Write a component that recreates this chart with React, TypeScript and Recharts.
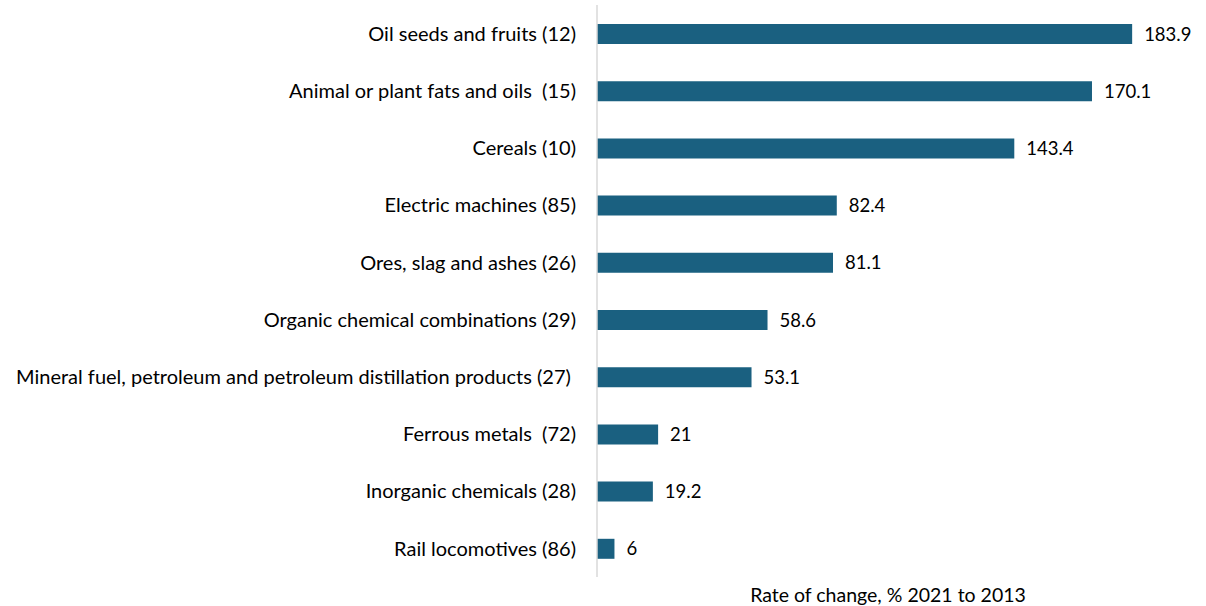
import React from 'react';
import { BarChart, Bar, XAxis, YAxis, LabelList } from 'recharts';

const categories = [
  'Oil seeds and fruits (12)',
  'Animal or plant fats and oils\u00a0\u00a0(15)',
  'Cereals (10)',
  'Electric machines (85)',
  'Ores, slag and ashes (26)',
  'Organic chemical combinations (29)',
  'Mineral fuel, petroleum and petroleum distillation products (27)\u00a0',
  'Ferrous metals\u00a0\u00a0(72)',
  'Inorganic chemicals (28)',
  'Rail locomotives (86)',
];
const values = [183.9, 170.1, 143.4, 82.4, 81.1, 58.6, 53.1, 21, 19.2, 6];
const axisTitle = 'Rate of change, % 2021 to 2013';

const data = categories.map((name, i) => ({ name, value: values[i] }));

const FONT = 'Lato, "Open Sans", sans-serif';

export default function App() {
  return (
    <div style={{ position: 'absolute', left: 0, top: 0, width: 1206, height: 606, background: '#fff' }}>
      <BarChart
        width={1206}
        height={606}
        data={data}
        layout="vertical"
        margin={{ top: 5, right: 27, bottom: 0, left: 0 }}
        barCategoryGap={0}
      >
        <XAxis
          type="number"
          domain={[0, 200]}
          tick={false}
          axisLine={false}
          tickLine={false}
          height={29}
          label={{ value: axisTitle, position: 'insideBottom', offset: 4, fill: '#000', fontSize: 19.5, fontFamily: FONT }}
        />
        <YAxis
          type="category"
          dataKey="name"
          width={597}
          axisLine={{ stroke: '#d9d9d9', strokeWidth: 1.5 }}
          tickLine={false}
          tickSize={0}
          tickMargin={21}
          interval={0}
          tick={{ fill: '#000', fontSize: 20, fontFamily: FONT }}
        />
        <Bar dataKey="value" fill="#1a6080" barSize={20} isAnimationActive={false}>
          <LabelList dataKey="value" position="right" offset={12} fill="#000" fontSize={18.5} fontFamily={FONT} />
        </Bar>
      </BarChart>
    </div>
  );
}
